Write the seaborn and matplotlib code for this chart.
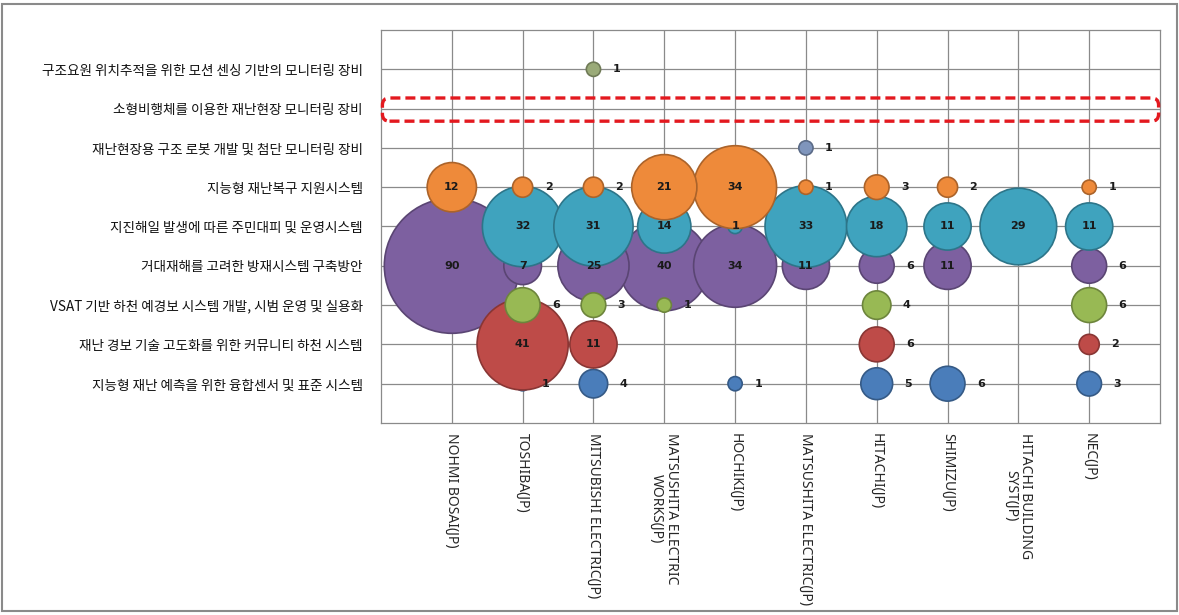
import numpy as np
import pandas as pd
import matplotlib
matplotlib.use("Agg")
import matplotlib.pyplot as plt
import matplotlib.colors as mcolors
import seaborn as sns
from matplotlib.patches import FancyBboxPatch, Rectangle

# ---------------- data ----------------
companies = ["NOHMI BOSAI(JP)", "TOSHIBA(JP)", "MITSUBISHI ELECTRIC(JP)",
             "MATSUSHITA ELECTRIC\nWORKS(JP)", "HOCHIKI(JP)", "MATSUSHITA ELECTRIC(JP)",
             "HITACHI(JP)", "SHIMIZU(JP)", "HITACHI BUILDING\nSYST(JP)", "NEC(JP)"]

# rows listed bottom (y=1) to top (y=9)
topics = ["지능형 재난 예측을 위한 융합센서 및 표준 시스템",
          "재난 경보 기술 고도화를 위한 커뮤니티 하천 시스템",
          "VSAT 기반 하천 예경보 시스템 개발, 시범 운영 및 실용화",
          "거대재해를 고려한 방재시스템 구축방안",
          "지진해일 발생에 따른 주민대피 및 운영시스템",
          "지능형 재난복구 지원시스템",
          "재난현장용 구조 로봇 개발 및 첨단 모니터링 장비",
          "소형비행체를 이용한 재난현장 모니터링 장비",
          "구조요원 위치추적을 위한 모션 센싱 기반의 모니터링 장비"]

# values per topic (0 = no bubble), order follows companies
v_sensor   = [0, 1, 4, 0, 1, 0, 5, 6, 0, 3]
v_river    = [0, 41, 11, 0, 0, 0, 6, 0, 0, 2]
v_vsat     = [0, 6, 3, 1, 0, 0, 4, 0, 0, 6]
v_mega     = [90, 7, 25, 40, 34, 11, 6, 11, 0, 6]
v_tsunami  = [0, 32, 31, 14, 1, 33, 18, 11, 29, 11]
v_recovery = [12, 2, 2, 21, 34, 1, 3, 2, 0, 1]
v_robot    = [0, 0, 0, 0, 0, 1, 0, 0, 0, 0]
v_drone    = [0, 0, 0, 0, 0, 0, 0, 0, 0, 0]
v_tracking = [0, 0, 1, 0, 0, 0, 0, 0, 0, 0]
values = [v_sensor, v_river, v_vsat, v_mega, v_tsunami, v_recovery, v_robot, v_drone, v_tracking]

colors = ["#4A7DBA", "#BE4B48", "#98B954", "#7D60A0", "#3FA3BE", "#EE8A3A",
          "#7F95BC", "#B0B0B0", "#9AAA78"]
# drawing order of series (back to front)
draw_rank = [0, 2, 3, 1, 4, 5, 6, 7, 8]
centered_small = {(5, 5)}  # (row, company) labels drawn at centre though small

# ---------------- long table ----------------
recs = []
for ri, vals in enumerate(values):
    for ci, v in enumerate(vals):
        if v > 0:
            recs.append(dict(row=ri + 1, comp=ci + 1, value=v, topic=topics[ri],
                             rank=draw_rank[ri]))
df = pd.DataFrame(recs).sort_values(["rank", "value"], ascending=[True, False]).reset_index(drop=True)


def darker(c, f=0.72):
    r, g, b = mcolors.to_rgb(c)
    return (r * f, g * f, b * f)


edge_cols = [darker(colors[r - 1]) for r in df["row"]]

W, H, DPI = 1179, 615, 100
fig = plt.figure(figsize=(W / DPI, H / DPI), dpi=DPI)
sns.set_style("white")
plt.rcParams["font.family"] = ["Noto Sans CJK KR", "DejaVu Sans"]

ax = fig.add_axes([381 / W, 1 - 423 / H, (1160 - 381) / W, (423 - 30) / H])

# bubble area proportional to value: value 90 -> diameter ~135 px
px2pt = 72 / DPI
dmax_pt = 135 * px2pt
smax = dmax_pt ** 2
vmax = 90
palette = {topics[i]: colors[i] for i in range(len(topics))}
sns.scatterplot(data=df, x="comp", y="row", hue="topic", size="value",
                sizes=(0, smax), size_norm=(0, vmax), palette=palette,
                edgecolor=edge_cols, linewidth=1.2,
                legend=False, ax=ax, zorder=3)

# labels
for _, r in df.iterrows():
    v = r["value"]
    rad_px = 135 / 2 * np.sqrt(v / vmax)
    if v >= 7 or (r["row"], r["comp"]) in centered_small:
        ax.annotate(str(v), (r["comp"], r["row"]), ha="center", va="center",
                    fontsize=8, fontweight="bold", color="#1a1a1a", zorder=10,
                    family=["DejaVu Sans"])
    else:
        ax.annotate(str(v), (r["comp"], r["row"]),
                    xytext=((rad_px + 12) * px2pt, 0), textcoords="offset points",
                    ha="left", va="center", fontsize=8, fontweight="bold",
                    color="#1a1a1a", zorder=10, family=["DejaVu Sans"])

ax.set_xlim(0, 11)
ax.set_ylim(0, 10)
ax.set_xticks(range(1, 11))
ax.set_xticklabels(companies, rotation=270, ha="center", va="top",
                   fontsize=10, family=["Noto Sans", "DejaVu Sans"], linespacing=1.0)
ax.set_yticks(range(1, 10))
ax.set_yticklabels(topics, fontsize=9.8, color="#111111")
ax.tick_params(axis="both", length=0)
ax.tick_params(axis="y", pad=13)
ax.tick_params(axis="x", pad=7)
ax.grid(True, color="#8a8a8a", linewidth=0.9)
ax.set_axisbelow(True)
for s in ax.spines.values():
    s.set_color("#8a8a8a")
    s.set_linewidth(0.9)
ax.set_xlabel("")
ax.set_ylabel("")

# dashed highlight box around the empty row
box = FancyBboxPatch((0.02, 7.68), 10.96, 0.59,
                     boxstyle="round,pad=0,rounding_size=0.1",
                     mutation_aspect=1.8, fill=False, edgecolor="#E3191F",
                     linestyle=(0, (3, 1.5)), linewidth=2.4, zorder=11, clip_on=False)
ax.add_patch(box)

# outer chart border
fig.add_artist(Rectangle((2 / W, 4 / H), (1177 - 2) / W, (611 - 4) / H,
                         transform=fig.transFigure, fill=False,
                         edgecolor="#8a8a8a", linewidth=1.5))

fig.savefig("out.png", dpi=DPI)
